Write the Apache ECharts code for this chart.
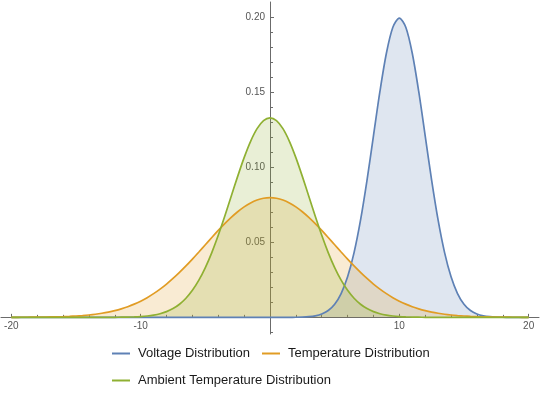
<!DOCTYPE html>
<html><head><meta charset="utf-8">
<script src="https://cdn.jsdelivr.net/npm/echarts@6/dist/echarts.min.js"></script>
<style>html,body{margin:0;padding:0;background:#fff}#c{width:540px;height:394px}</style>
</head><body><div id="c"></div>
<script>
const xs = [-20,-19.5,-19,-18.5,-18,-17.5,-17,-16.5,-16,-15.5,-15,-14.5,-14,-13.5,-13,-12.5,-12,-11.5,-11,-10.5,
  -10,-9.5,-9,-8.5,-8,-7.5,-7,-6.5,-6,-5.5,-5,-4.5,-4,-3.5,-3,-2.5,-2,-1.5,-1,-0.5,
  0,0.5,1,1.5,2,2.5,3,3.5,4,4.5,5,5.5,6,6.5,7,7.5,8,8.5,9,9.5,
  10,10.5,11,11.5,12,12.5,13,13.5,14,14.5,15,15.5,16,16.5,17,17.5,18,18.5,19,19.5,20];
const voltage = [0,0,0,0,0,0,0,0,0,0,0,0,0,0,0,0,0,0,0,0,
  0,0,0,0,0,0,0,0,0,0,0,0,0,0,0,0,0,0,0,0,
  0,0,0.00001,0.00002,0.00007,0.00018,0.00044,0.00102,0.00222,0.00455,0.00876,0.01587,0.02700,0.04314,0.06476,0.09133,0.12099,0.15057,0.17603,0.19333,
  0.19947,0.19333,0.17603,0.15057,0.12099,0.09133,0.06476,0.04314,0.02700,0.01587,0.00876,0.00455,0.00222,0.00102,0.00044,0.00018,0.00007,0.00002,0.00001,0,0];
const temperature = [0.00003,0.00004,0.00006,0.00009,0.00012,0.00017,0.00025,0.00034,0.00048,0.00065,
  0.00089,0.00119,0.00158,0.00208,0.00272,0.00351,0.00448,0.00567,0.00710,0.00880,
  0.01080,0.01312,0.01579,0.01881,0.02218,0.02590,0.02995,0.03427,0.03884,0.04357,
  0.04839,0.05322,0.05794,0.06245,0.06664,0.07041,0.07365,0.07628,0.07821,0.07939,
  0.07979,
  0.07939,0.07821,0.07628,0.07365,0.07041,0.06664,0.06245,0.05794,0.05322,0.04839,
  0.04357,0.03884,0.03427,0.02995,0.02590,0.02218,0.01881,0.01579,0.01312,0.01080,
  0.00880,0.00710,0.00567,0.00448,0.00351,0.00272,0.00208,0.00158,0.00119,0.00089,
  0.00065,0.00048,0.00034,0.00025,0.00017,0.00012,0.00009,0.00006,0.00004,0.00003];
const ambient = [0,0,0,0,0,0,0,0,0,0,0,0,0,
  0.00001,0.00001,0.00002,0.00004,0.00009,0.00016,0.00029,0.00051,0.00088,0.00148,0.00240,0.00380,0.00584,0.00874,
  0.01272,0.01800,0.02477,0.03316,0.04317,0.05467,0.06733,0.08066,0.09397,0.10648,0.11736,0.12579,0.13115,
  0.13298,
  0.13115,0.12579,0.11736,0.10648,0.09397,0.08066,0.06733,0.05467,0.04317,0.03316,0.02477,0.01800,0.01272,
  0.00874,0.00584,0.00380,0.00240,0.00148,0.00088,0.00051,0.00029,0.00016,0.00009,0.00004,0.00002,0.00001,0.00001,
  0,0,0,0,0,0,0,0,0,0,0,0,0];
const seriesNames = ['Voltage Distribution','Temperature Distribution','Ambient Temperature Distribution'];
const seriesColors = ['#5E81B5','#E19C24','#8FB032'];
const xMajorTicks = [-20,-10,10,20];
const xMinorTicks = [-18,-16,-14,-12,-8,-6,-4,-2,2,4,6,8,12,14,16,18];
const yMajorTicks = [0.05,0.10,0.15,0.20];
const yMinorTicks = [-0.01,0.01,0.02,0.03,0.04,0.06,0.07,0.08,0.09,0.11,0.12,0.13,0.14,0.16,0.17,0.18,0.19];

const X_MIN = -20.8, X_MAX = 20.8, Y_MIN = -0.0111, Y_MAX = 0.2102;
const G_LEFT = 1, G_RIGHT = 1, G_TOP = 2, G_BOTTOM = 60, W = 540, H = 394;
const gw = W - G_LEFT - G_RIGHT, gh = H - G_TOP - G_BOTTOM;
const zeroX = G_LEFT + (0 - X_MIN) / (X_MAX - X_MIN) * gw;
const zeroY = G_TOP + (Y_MAX - 0) / (Y_MAX - Y_MIN) * gh;
const xLabelOffset = -((G_TOP + gh) - zeroY);
const yLabelOffset = -(zeroX - G_LEFT);

const axisColor = '#6b6b6b';
const labelFont = {fontSize:10, color:'#555', fontFamily:'Liberation Sans'};

const chart = echarts.init(document.getElementById('c'), null, {renderer:'canvas'});
const valuesList = [voltage, temperature, ambient];
const series = valuesList.map((vals, i) => ({
  name: seriesNames[i], type:'line', xAxisIndex:0, yAxisIndex:0,
  data: xs.map((x, k) => [x, vals[k]]),
  smooth: 0.3, symbol:'none', showSymbol:false,
  color: seriesColors[i],
  lineStyle:{width:1.7, color:seriesColors[i]},
  areaStyle:{color:seriesColors[i], opacity:0.2},
  emphasis:{disabled:true}, silent:true
}));

const legendCommon = {
  orient:'horizontal', padding:0, icon:'rect', itemWidth:18, itemHeight:2, itemGap:12,
  textStyle:{fontSize:13, color:'#1a1a1a', fontFamily:'Liberation Sans', padding:[0,0,0,3]},
  itemStyle:{opacity:1}, selectedMode:false
};

chart.setOption({
  animation:false,
  backgroundColor:'#fff',
  grid:{left:G_LEFT, right:G_RIGHT, top:G_TOP, bottom:G_BOTTOM, containLabel:false},
  legend:[
    Object.assign({}, legendCommon, {data:[seriesNames[0], seriesNames[1]], left:112, top:347}),
    Object.assign({}, legendCommon, {data:[seriesNames[2]], left:112, top:374})
  ],
  xAxis:[
    {type:'value', min:X_MIN, max:X_MAX, position:'bottom',
     axisLine:{show:true, onZero:true, onZeroAxisIndex:0, lineStyle:{color:axisColor, width:1}},
     axisTick:{show:true, inside:true, length:3.5, customValues:xMajorTicks, lineStyle:{color:axisColor}},
     axisLabel:{show:false}, splitLine:{show:false}},
    {type:'value', min:X_MIN, max:X_MAX, position:'bottom',
     axisLine:{show:false, onZero:true, onZeroAxisIndex:0},
     axisTick:{show:true, inside:true, length:2.5, customValues:xMinorTicks, lineStyle:{color:axisColor}},
     axisLabel:{show:false}, splitLine:{show:false}},
    {type:'value', min:X_MIN, max:X_MAX, position:'bottom', offset:xLabelOffset,
     axisLine:{show:false, onZero:false}, axisTick:{show:false},
     axisLabel:Object.assign({show:true, margin:4, customValues:xMajorTicks}, labelFont),
     splitLine:{show:false}}
  ],
  yAxis:[
    {type:'value', min:Y_MIN, max:Y_MAX, position:'left',
     axisLine:{show:true, onZero:true, onZeroAxisIndex:0, lineStyle:{color:axisColor, width:1}},
     axisTick:{show:true, inside:true, length:4, customValues:yMajorTicks, lineStyle:{color:axisColor}},
     axisLabel:{show:false}, splitLine:{show:false}},
    {type:'value', min:Y_MIN, max:Y_MAX, position:'left',
     axisLine:{show:false, onZero:true, onZeroAxisIndex:0},
     axisTick:{show:true, inside:true, length:3, customValues:yMinorTicks, lineStyle:{color:axisColor}},
     axisLabel:{show:false}, splitLine:{show:false}},
    {type:'value', min:Y_MIN, max:Y_MAX, position:'left', offset:yLabelOffset,
     axisLine:{show:false, onZero:false}, axisTick:{show:false},
     axisLabel:Object.assign({show:true, margin:5, customValues:yMajorTicks,
       formatter:v => v.toFixed(2)}, labelFont),
     splitLine:{show:false}}
  ],
  series: series
});
</script>
</body></html>
